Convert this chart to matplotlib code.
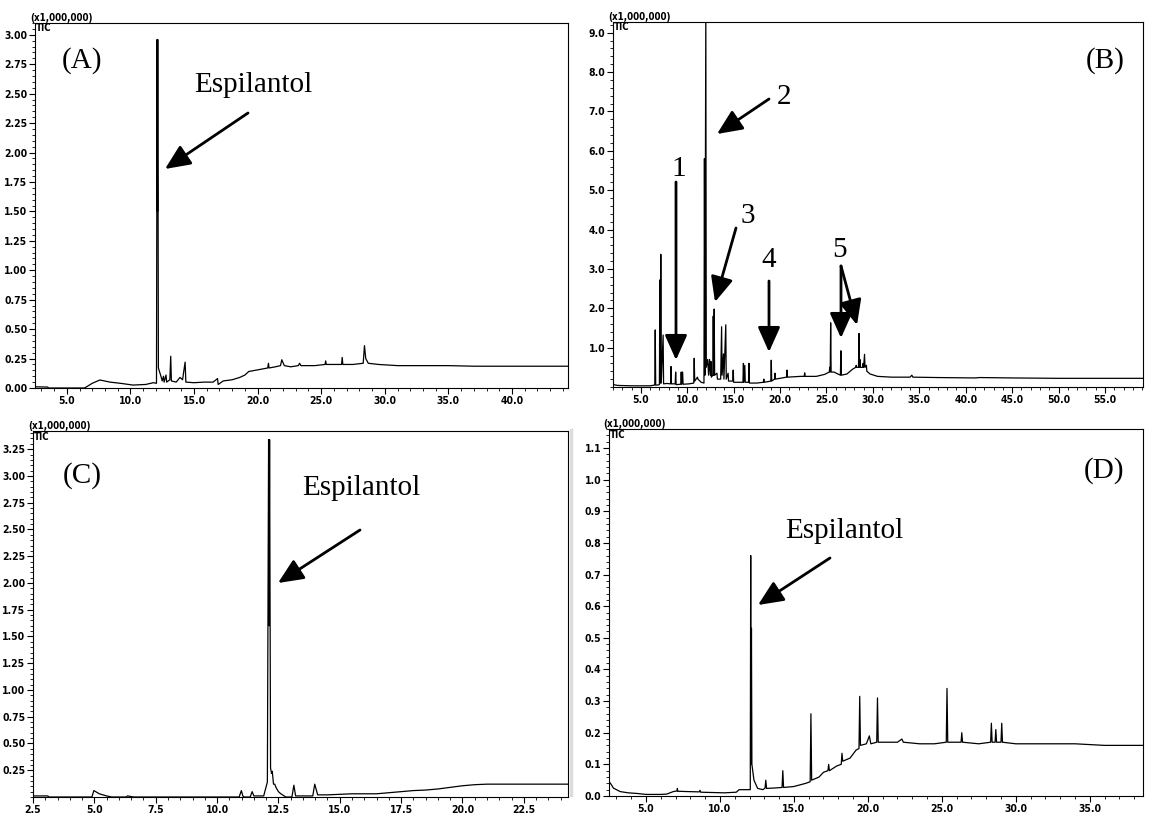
import matplotlib
matplotlib.use("Agg")
import matplotlib.pyplot as plt
from matplotlib.ticker import MultipleLocator, FixedLocator, FormatStrFormatter
from matplotlib.lines import Line2D
from matplotlib.patches import FancyArrowPatch

# --- chromatogram traces (time in min, intensity x1,000,000) ---
a_t = [2.5, 2.53, 3.5, 3.55, 6.4, 7.0, 7.6, 8.4, 9.2, 10.2, 11.2, 11.8,
       12.05, 12.1, 12.13, 12.15, 12.2, 12.4, 12.5, 12.6, 12.65, 12.8, 12.85, 13.1,
       13.17, 13.22, 13.6, 13.9, 14.1, 14.3, 14.36, 15.0, 15.8, 16.5, 16.85, 16.9,
       17.3, 18.0, 18.6, 19.0, 19.3, 19.8, 20.3, 20.8, 20.85, 20.9, 21.4, 21.8,
       21.9, 22.1, 22.6, 23.2, 23.3, 23.4, 24.5, 25.3, 25.35, 25.4, 26.0, 26.6,
       26.65, 26.7, 27.5, 28.3, 28.4, 28.5, 28.7, 29.5, 31.0, 33.0, 35.0, 37.0,
       40.0, 44.4]
a_y = [1.16, 0.01, 0.008, 0.0, 0.0, 0.04, 0.068, 0.05, 0.04, 0.025, 0.03, 0.045,
       0.04, 2.96, 1.5, 2.96, 0.17, 0.1, 0.06, 0.1, 0.05, 0.11, 0.05, 0.07,
       0.27, 0.06, 0.05, 0.09, 0.07, 0.22, 0.05, 0.045, 0.05, 0.05, 0.08, 0.03,
       0.06, 0.07, 0.09, 0.11, 0.14, 0.15, 0.16, 0.17, 0.21, 0.17, 0.18, 0.19,
       0.24, 0.19, 0.18, 0.19, 0.21, 0.19, 0.19, 0.2, 0.23, 0.2, 0.2, 0.2,
       0.26, 0.2, 0.2, 0.21, 0.36, 0.25, 0.21, 0.2, 0.19, 0.19, 0.19, 0.185,
       0.185, 0.185]

b_t = [2.0, 2.05, 2.5, 4.0, 6.0, 6.5, 6.55, 6.6, 6.8, 7.0, 7.05, 7.1,
       7.15, 7.2, 7.4, 7.45, 7.8, 8.2, 8.25, 8.3, 8.7, 8.75, 8.8, 9.3,
       9.35, 9.4, 9.5, 9.55, 10.2, 10.7, 10.75, 10.8, 11.1, 11.15, 11.5, 11.8,
       11.85, 11.9, 12.0, 12.05, 12.2, 12.3, 12.4, 12.5, 12.55, 12.6, 12.75, 12.8,
       12.85, 12.9, 12.95, 13.2, 13.25, 13.6, 13.7, 13.75, 13.9, 13.95, 14.15, 14.2,
       14.4, 14.45, 14.9, 14.95, 15.0, 15.6, 16.0, 16.05, 16.1, 16.2, 16.25, 16.6,
       16.65, 16.7, 17.5, 18.2, 18.25, 18.3, 19.0, 19.05, 19.1, 19.4, 19.45, 19.5,
       20.0, 20.7, 20.75, 20.8, 21.5, 22.2, 22.6, 22.65, 22.7, 23.9, 24.8, 25.3,
       25.35, 25.4, 25.45, 25.5, 25.8, 26.5, 26.55, 26.6, 27.2, 27.8, 28.15, 28.2,
       28.25, 28.45, 28.5, 28.55, 28.6, 28.65, 28.9, 28.95, 29.0, 29.1, 29.15, 29.3,
       29.35, 29.7, 30.5, 32.0, 34.0, 34.2, 34.3, 37.0, 41.0, 41.5, 45.0, 50.0,
       55.0, 59.1]
b_y = [0.18, 0.06, 0.04, 0.03, 0.03, 0.05, 1.45, 0.05, 0.05, 0.06, 2.72, 0.1,
       3.37, 0.1, 1.32, 0.08, 0.09, 0.08, 0.52, 0.08, 0.08, 0.38, 0.06, 0.07,
       0.38, 0.07, 0.38, 0.07, 0.08, 0.1, 0.73, 0.15, 0.25, 0.2, 0.12, 0.1,
       5.8, 0.3, 9.6, 0.5, 0.7, 0.3, 0.7, 0.3, 0.65, 0.25, 0.3, 1.8,
       0.3, 1.98, 0.3, 0.35, 0.2, 0.2, 1.53, 0.3, 0.84, 0.2, 1.58, 0.2,
       0.35, 0.15, 0.15, 0.43, 0.12, 0.12, 0.12, 0.6, 0.12, 0.55, 0.12, 0.12,
       0.6, 0.1, 0.1, 0.12, 0.2, 0.12, 0.15, 0.68, 0.15, 0.2, 0.35, 0.2,
       0.22, 0.25, 0.43, 0.25, 0.26, 0.27, 0.27, 0.36, 0.27, 0.27, 0.32, 0.38,
       0.5, 0.38, 1.63, 0.38, 0.38, 0.3, 0.92, 0.3, 0.33, 0.45, 0.5, 0.55,
       0.5, 0.5, 1.36, 0.5, 0.7, 0.5, 0.5, 0.6, 0.5, 0.83, 0.5, 0.55,
       0.4, 0.33, 0.27, 0.25, 0.25, 0.3, 0.25, 0.24, 0.23, 0.24, 0.23, 0.22,
       0.22, 0.22]

c_t = [2.5, 3.1, 3.15, 4.9, 4.98, 5.2, 5.5, 5.7, 6.3, 6.35, 6.6, 10.9,
       10.99, 11.05, 11.1, 11.35, 11.43, 11.5, 11.9, 12.05, 12.1, 12.12, 12.14, 12.18,
       12.22, 12.25, 12.3, 12.35, 12.4, 12.5, 12.6, 12.8, 13.05, 13.13, 13.2, 13.9,
       13.98, 14.1, 14.5, 15.5, 16.5, 17.0, 17.5, 18.0, 18.5, 19.0, 19.5, 20.0,
       20.5, 21.0, 22.0, 23.0, 24.3]
c_y = [0.01, 0.01, 0.0, 0.0, 0.06, 0.03, 0.01, 0.0, 0.0, 0.01, 0.0, 0.0,
       0.06, 0.01, 0.0, 0.0, 0.05, 0.01, 0.01, 0.14, 3.34, 1.6, 3.34, 0.27,
       0.22, 0.24, 0.12, 0.12, 0.09, 0.05, 0.03, 0.0, 0.0, 0.11, 0.01, 0.01,
       0.12, 0.02, 0.02, 0.03, 0.03, 0.04, 0.05, 0.06, 0.065, 0.075, 0.09, 0.105,
       0.115, 0.12, 0.12, 0.12, 0.12]

d_t = [2.5, 2.6, 2.8, 3.25, 3.8, 4.4, 5.0, 6.0, 6.4, 6.85, 7.1, 7.12,
       7.15, 7.8, 8.6, 8.65, 8.7, 9.5, 10.3, 11.1, 11.3, 11.8, 12.05, 12.08,
       12.1, 12.13, 12.16, 12.3, 12.55, 12.9, 13.05, 13.1, 13.15, 13.6, 14.2, 14.25,
       14.3, 15.0, 15.8, 16.1, 16.15, 16.2, 16.7, 17.0, 17.3, 17.35, 17.4, 17.9,
       18.2, 18.25, 18.3, 18.8, 19.2, 19.4, 19.45, 19.5, 19.9, 20.1, 20.2, 20.6,
       20.65, 20.7, 21.3, 22.0, 22.3, 22.4, 23.5, 24.5, 25.3, 25.35, 25.4, 26.3,
       26.35, 26.4, 27.5, 28.3, 28.35, 28.4, 28.6, 28.65, 28.7, 29.0, 29.05, 29.1,
       30.0, 32.0, 34.0, 36.0, 38.6]
d_y = [0.045, 0.04, 0.025, 0.014, 0.01, 0.008, 0.005, 0.005, 0.006, 0.014, 0.016, 0.024,
       0.015, 0.014, 0.013, 0.018, 0.012, 0.011, 0.01, 0.012, 0.02, 0.02, 0.02, 0.76,
       0.1, 0.53, 0.1, 0.05, 0.024, 0.02, 0.025, 0.05, 0.024, 0.025, 0.027, 0.08,
       0.027, 0.03, 0.04, 0.045, 0.26, 0.05, 0.06, 0.075, 0.08, 0.1, 0.08, 0.095,
       0.1, 0.135, 0.11, 0.12, 0.145, 0.15, 0.315, 0.16, 0.165, 0.19, 0.165, 0.17,
       0.31, 0.17, 0.17, 0.17, 0.18, 0.17, 0.165, 0.165, 0.17, 0.34, 0.17, 0.17,
       0.2, 0.17, 0.165, 0.17, 0.23, 0.17, 0.17, 0.21, 0.17, 0.17, 0.23, 0.17,
       0.165, 0.165, 0.165, 0.16, 0.16]

a_yticks = [0.0, 0.25, 0.5, 0.75, 1.0, 1.25, 1.5, 1.75, 2.0, 2.25, 2.5, 2.75, 3.0]
b_yticks = [1.0, 2.0, 3.0, 4.0, 5.0, 6.0, 7.0, 8.0, 9.0]
c_yticks = [0.25, 0.5, 0.75, 1.0, 1.25, 1.5, 1.75, 2.0, 2.25, 2.5, 2.75, 3.0, 3.25]
d_yticks = [0.0, 0.1, 0.2, 0.3, 0.4, 0.5, 0.6, 0.7, 0.8, 0.9, 1.0, 1.1]

W, H = 1149, 817
plt.rcParams['font.family'] = ['Liberation Sans Narrow', 'DejaVu Sans']
plt.rcParams['font.weight'] = 'bold'
plt.rcParams['font.stretch'] = 'condensed'
plt.rcParams['xtick.labelsize'] = 7.5
plt.rcParams['ytick.labelsize'] = 7.5

fig = plt.figure(figsize=(W / 100, H / 100), dpi=100)


# pixel box -> figure fraction rect
def box(x0, y0, x1, y1):
    return [x0 / W, 1 - y1 / H, (x1 - x0) / W, (y1 - y0) / H]


def fp(x, y):
    return (x / W, 1 - y / H)


def painel(rect, t, y, xlim, ylim, xmaj, xmin, yticks, ymin, yfmt):
    ax = fig.add_axes(rect)
    ax.plot(t, y, color='black', lw=0.9)
    ax.set_xlim(xlim)
    ax.set_ylim(ylim)
    ax.xaxis.set_major_locator(MultipleLocator(xmaj))
    ax.xaxis.set_minor_locator(MultipleLocator(xmin))
    ax.yaxis.set_major_locator(FixedLocator(yticks))
    ax.yaxis.set_minor_locator(MultipleLocator(ymin))
    ax.xaxis.set_major_formatter(FormatStrFormatter('%.1f'))
    ax.yaxis.set_major_formatter(FormatStrFormatter(yfmt))
    ax.tick_params(which='major', length=4, width=0.8, pad=1.5, direction='out')
    ax.tick_params(which='minor', length=2, width=0.6, direction='out')
    for s in ax.spines.values():
        s.set_linewidth(0.8)
    return ax


axA = painel(box(35, 23, 568, 388), a_t, a_y, (2.5, 44.4), (0, 3.10), 5, 1, a_yticks, 0.05, '%.2f')
axB = painel(box(613, 22, 1143, 387), b_t, b_y, (2.0, 59.1), (0, 9.27), 5, 1, b_yticks, 0.2, '%.1f')
axC = painel(box(33, 431, 568, 797), c_t, c_y, (2.5, 24.3), (0, 3.42), 2.5, 0.5, c_yticks, 0.05, '%.2f')
axD = painel(box(609, 429, 1143, 796), d_t, d_y, (2.5, 38.6), (0, 1.16), 5, 1, d_yticks, 0.02, '%.1f')

# small instrument labels
for (x, y) in [(30, 21), (608, 20), (28, 429), (603, 427)]:
    fig.text(*fp(x, y), '(x1,000,000)', fontsize=7, ha='left', va='baseline')
for (x, y) in [(36, 23), (614, 22), (34, 432), (610, 430)]:
    fig.text(*fp(x, y), 'TIC', fontsize=7, ha='left', va='top')

# faint frame line left of panel D
fig.add_artist(Line2D([571 / W, 571 / W], [1 - 795 / H, 1 - 430 / H], color='#dcdcdc', lw=2.5))

serif = dict(family=['Liberation Serif', 'DejaVu Serif'], fontweight='normal',
             fontstretch='normal', fontsize=21, ha='center', va='baseline')
rotulos = [('(A)', 82, 68), ('Espilantol', 253, 92),
           ('(B)', 1105, 68), ('1', 679, 176), ('2', 784, 104), ('3', 748, 223),
           ('4', 769, 267), ('5', 840, 257),
           ('(C)', 82, 483), ('Espilantol', 361, 495),
           ('(D)', 1104, 478), ('Espilantol', 844, 538)]
for txt, x, y in rotulos:
    fig.text(*fp(x, y), txt, **serif)

setas = [((248, 113), (165, 169)),
         ((676, 182), (676, 360)), ((769, 99), (717, 134)), ((736, 228), (715, 302)),
         ((769, 281), (769, 352)), ((841, 266), (841, 338)), ((841, 266), (857, 325)),
         ((360, 530), (278, 583)),
         ((830, 558), (758, 605))]
for tail, head in setas:
    fig.add_artist(FancyArrowPatch(fp(*tail), fp(*head), transform=fig.transFigure,
                                   arrowstyle='-|>,head_length=0.85,head_width=0.38',
                                   mutation_scale=18, lw=2, color='black',
                                   shrinkA=0, shrinkB=0, zorder=5))

fig.savefig('out.png', dpi=100)
